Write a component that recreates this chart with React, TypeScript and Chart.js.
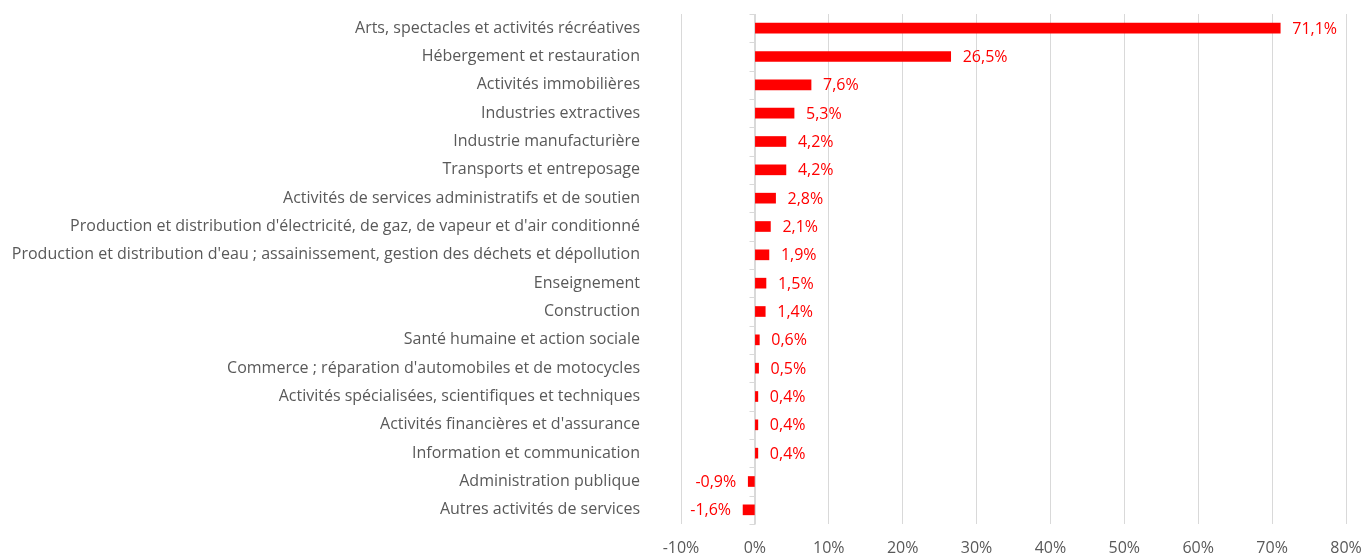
import React, { useEffect, useRef } from "react";
import { Chart, registerables } from "chart.js";

Chart.register(...registerables);

const categories = [
  "Arts, spectacles et activités récréatives",
  "Hébergement et restauration",
  "Activités immobilières",
  "Industries extractives",
  "Industrie manufacturière",
  "Transports et entreposage",
  "Activités de services administratifs et de soutien",
  "Production et distribution d'électricité, de gaz, de vapeur et d'air conditionné",
  "Production et distribution d'eau ; assainissement, gestion des déchets et dépollution",
  "Enseignement",
  "Construction",
  "Santé humaine et action sociale",
  "Commerce ; réparation d'automobiles et de motocycles",
  "Activités spécialisées, scientifiques et techniques",
  "Activités financières et d'assurance",
  "Information et communication",
  "Administration publique",
  "Autres activités de services",
];

const values = [71.1, 26.5, 7.6, 5.3, 4.2, 4.2, 2.8, 2.1, 1.9, 1.5, 1.4, 0.6, 0.5, 0.4, 0.4, 0.4, -0.9, -1.6];

const xMin = -10;
const xMax = 80;
const xStep = 10;

const FONT = "'Open Sans', sans-serif";
const TEXT_GRAY = "#595959";
const RED = "#ff0000";
const GRID = "#d9d9d9";

const fmt = (v: number) => v.toFixed(1).replace(".", ",") + "%";

const zeroAxis = {
  id: "zeroAxis",
  beforeDatasetsDraw(chart: any) {
    const { ctx, chartArea, scales } = chart;
    const x = Math.round(scales.x.getPixelForValue(0)) + 0.5;
    const yScale = scales.y;
    const n = categories.length;
    const half = (yScale.getPixelForValue(1) - yScale.getPixelForValue(0)) / 2;
    ctx.save();
    ctx.strokeStyle = GRID;
    ctx.lineWidth = 1;
    ctx.beginPath();
    ctx.moveTo(x, chartArea.top);
    ctx.lineTo(x, chartArea.bottom);
    for (let i = 0; i <= n; i++) {
      const y = Math.round(yScale.getPixelForValue(i) - half) + 0.5;
      ctx.moveTo(x - 6, y);
      ctx.lineTo(x, y);
    }
    ctx.stroke();
    ctx.restore();
  },
};

const dataLabels = {
  id: "dataLabels",
  afterDatasetsDraw(chart: any) {
    const { ctx } = chart;
    const meta = chart.getDatasetMeta(0);
    ctx.save();
    ctx.font = `16px ${FONT}`;
    ctx.fillStyle = RED;
    ctx.textBaseline = "middle";
    meta.data.forEach((el: any, i: number) => {
      const v = values[i];
      if (v >= 0) {
        ctx.textAlign = "left";
        ctx.fillText(fmt(v), el.x + 12, el.y + 1);
      } else {
        ctx.textAlign = "right";
        ctx.fillText(fmt(v), el.x - 12, el.y + 1);
      }
    });
    ctx.restore();
  },
};

export default function App() {
  const ref = useRef<HTMLCanvasElement | null>(null);

  useEffect(() => {
    document.body.style.margin = "0";
    if (!ref.current) return;
    const chart = new Chart(ref.current, {
      type: "bar",
      data: {
        labels: categories,
        datasets: [
          {
            data: values,
            backgroundColor: RED,
            borderWidth: 0,
            barThickness: 10,
          },
        ],
      },
      options: {
        indexAxis: "y",
        responsive: false,
        animation: false,
        layout: { padding: { left: 0, top: 14, right: 17, bottom: 0 } },
        plugins: {
          legend: { display: false },
          tooltip: { enabled: false },
        },
        scales: {
          x: {
            min: xMin,
            max: xMax,
            grid: { color: GRID, drawTicks: false },
            border: { display: false },
            ticks: {
              stepSize: xStep,
              padding: 15,
              color: TEXT_GRAY,
              font: { family: FONT, size: 16 },
              callback: (v: any) => `${v}%`,
            },
            afterFit: (s: any) => {
              s.height = 30;
              s.paddingLeft = 0;
              s.paddingRight = 0;
            },
          },
          y: {
            grid: { display: false, drawTicks: false },
            border: { display: false },
            ticks: {
              autoSkip: false,
              padding: 41,
              color: TEXT_GRAY,
              font: { family: FONT, size: 16 },
            },
            afterFit: (s: any) => {
              s.width = 681;
              s.paddingTop = 0;
              s.paddingBottom = 0;
            },
          },
        },
      },
      plugins: [zeroAxis, dataLabels],
    });
    return () => chart.destroy();
  }, []);

  return (
    <div style={{ width: 1363, height: 554 }}>
      <canvas ref={ref} width={1363} height={554} style={{ display: "block" }} />
    </div>
  );
}
